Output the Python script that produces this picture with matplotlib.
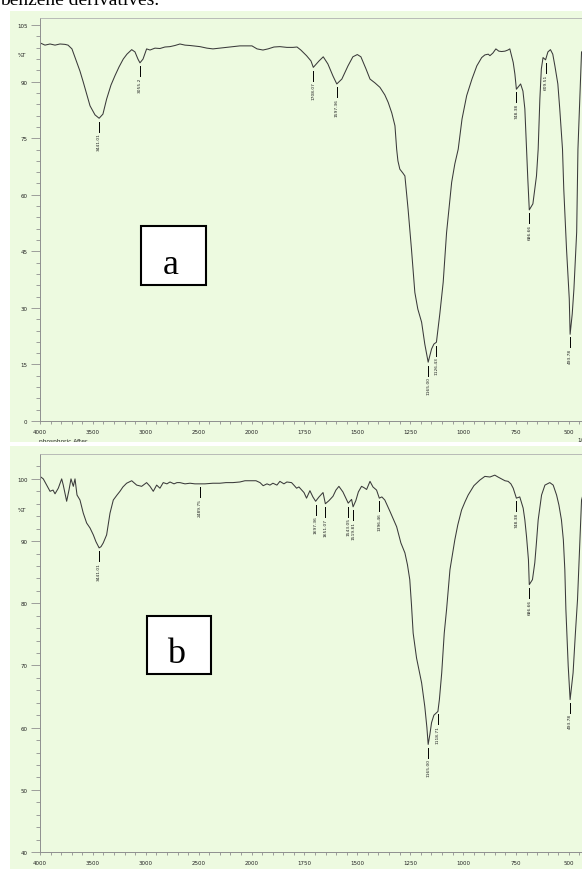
import numpy as np
import matplotlib
matplotlib.use("Agg")
import matplotlib.pyplot as plt
from matplotlib.patches import Rectangle
from matplotlib.ticker import FixedLocator

W, H = 582, 870
BG = "#edfae0"
LINE = "#3a3a3a"
AXC = "#8f8f8f"

# FTIR spectrum (a): wavenumber (1/cm) and transmittance (%T)
wn_a = [4000, 3953, 3905, 3858, 3811, 3764, 3735, 3698, 3653, 3622, 3591, 3556, 3527, 3480,
        3441, 3405, 3370, 3329, 3291, 3253, 3213, 3178, 3133, 3102, 3074, 3055, 3026, 2992,
        2960, 2913, 2866, 2819, 2771, 2724, 2677, 2629, 2582, 2488, 2422, 2365, 2299, 2204,
        2110, 2043, 1998, 1974, 1946, 1922, 1894, 1866, 1833, 1804, 1785, 1767, 1740, 1719,
        1708, 1681, 1661, 1639, 1615, 1597, 1573, 1544, 1521, 1500, 1483, 1459, 1440, 1417,
        1393, 1370, 1354, 1337, 1322, 1314, 1308, 1299, 1285, 1275, 1260, 1244, 1228, 1214,
        1196, 1181, 1165, 1149, 1138, 1126, 1110, 1094, 1078, 1054, 1039, 1023, 1005, 983,
        958, 935, 912, 897, 881, 873, 859, 845, 831, 818, 802, 788, 779, 763, 755, 748,
        728, 717, 708, 700, 694, 687, 670, 661, 653, 645, 637, 630, 622, 610, 599, 587,
        576, 566, 552, 543, 530, 524, 511, 498, 494, 484, 476, 463, 457, 440, 420]
t_a = [100.3, 99.7, 100.0, 99.7, 100.0, 99.9, 99.7, 98.7, 95.2, 92.8, 89.9, 86.5, 83.6, 81.2,
       80.3, 81.4, 85.4, 89.1, 91.6, 93.9, 96.0, 97.3, 98.5, 97.9, 96.0, 95.0, 96.0, 98.7,
       98.4, 98.9, 98.8, 99.2, 99.3, 99.6, 100.0, 99.7, 99.6, 99.3, 98.9, 98.7, 98.9, 99.2,
       99.5, 99.5, 99.5, 98.7, 98.4, 98.7, 99.2, 99.3, 99.1, 99.1, 99.2, 98.4, 96.9, 95.5,
       93.8, 95.5, 96.6, 94.7, 91.5, 89.4, 90.7, 94.2, 96.6, 97.2, 96.6, 93.4, 90.7, 89.7,
       88.5, 86.5, 84.5, 81.7, 78.3, 72.1, 69.0, 66.8, 65.8, 65.0, 56.2, 45.6, 34.1, 29.7,
       26.2, 20.4, 15.6, 19.1, 20.4, 20.9, 28.4, 36.8, 50.0, 63.3, 68.2, 72.1, 80.1, 86.3,
       90.7, 94.2, 96.4, 97.1, 97.3, 96.9, 97.6, 98.7, 98.1, 98.0, 98.1, 98.4, 98.7, 95.1, 92.0, 88.0,
       89.4, 87.5, 82.8, 72.1, 64.2, 56.0, 57.6, 61.5, 65.0, 72.1, 85.4, 93.4, 96.4, 95.8, 97.9, 98.5,
       97.3, 94.2, 89.4, 82.8, 72.1, 61.5, 45.6, 32.4, 23.0, 28.4, 35.0, 50.1, 72.1, 97.9, 98.5]
peaks_a = ["3441.01", "3055.2", "1708.07", "1597.36", "1165.00", "1126.43",
           "748.38", "686.66", "609.51", "493.78"]

# FTIR spectrum (b)
wn_b = [4000, 3969, 3937, 3905, 3877, 3858, 3827, 3795, 3780, 3748, 3726, 3707, 3685, 3669,
        3650, 3622, 3591, 3559, 3527, 3496, 3471, 3441, 3423, 3402, 3370, 3338, 3307, 3272,
        3244, 3216, 3181, 3133, 3086, 3039, 2992, 2960, 2929, 2897, 2866, 2835, 2800, 2771,
        2733, 2705, 2677, 2629, 2582, 2535, 2490, 2440, 2365, 2299, 2242, 2176, 2110, 2062,
        2015, 1979, 1960, 1945, 1927, 1913, 1899, 1880, 1866, 1847, 1833, 1811, 1800, 1787,
        1776, 1763, 1752, 1740, 1724, 1710, 1697, 1681, 1662, 1651, 1634, 1615, 1601, 1587,
        1568, 1550, 1543, 1527, 1520, 1507, 1495, 1480, 1469, 1456, 1440, 1426, 1409, 1396,
        1384, 1370, 1346, 1332, 1314, 1294, 1275, 1263, 1252, 1244, 1236, 1220, 1196, 1181,
        1171, 1165, 1157, 1149, 1138, 1119, 1112, 1101, 1089, 1078, 1062, 1039, 1025, 1007,
        991, 976, 949, 921, 897, 873, 850, 835, 818, 802, 787, 774, 763, 748, 732, 716,
        708, 700, 691, 687, 672, 661, 654, 645, 629, 613, 590, 574, 558, 547, 535, 526,
        519, 514, 503, 494, 480, 469, 459, 440, 420]
t_b = [100.4, 100.0, 99.0, 98.0, 98.2, 97.6, 98.5, 100.0, 99.0, 96.4, 98.2, 100.0, 98.8, 100.0,
       97.4, 96.6, 94.5, 92.9, 92.1, 91.0, 89.9, 88.9, 89.1, 89.7, 91.0, 94.5, 96.6, 97.4,
       98.0, 98.7, 99.3, 99.7, 99.0, 98.8, 99.4, 98.8, 98.0, 99.0, 98.5, 99.4, 99.2, 99.5,
       99.2, 99.4, 99.4, 99.2, 99.3, 99.2, 99.2, 99.2, 99.3, 99.3, 99.4, 99.4, 99.5, 99.7,
       99.7, 99.7, 99.4, 98.9, 99.2, 99.0, 99.3, 99.0, 99.6, 99.2, 99.5, 99.4, 99.0, 98.5,
       98.7, 98.2, 97.8, 96.9, 98.1, 97.1, 96.4, 97.1, 97.8, 96.0, 96.5, 97.2, 98.2, 98.8,
       97.9, 96.6, 96.1, 96.7, 95.5, 96.5, 97.9, 98.8, 98.6, 98.3, 99.6, 98.7, 98.2, 96.9,
       97.1, 96.6, 94.8, 93.7, 92.3, 89.7, 88.1, 86.2, 83.8, 79.8, 75.2, 71.2, 67.2, 63.4,
       60.0, 57.3, 58.9, 60.8, 62.0, 62.6, 64.5, 68.8, 75.2, 79.0, 85.4, 90.2, 92.6, 95.0,
       96.3, 97.4, 98.9, 99.8, 100.4, 100.3, 100.6, 100.3, 100.0, 99.7, 99.6, 99.2, 98.5, 96.9, 97.1, 95.3,
       93.4, 90.7, 87.0, 83.0, 83.8, 86.5, 89.4, 93.4, 97.4, 99.0, 99.4, 99.0, 97.4, 95.8, 93.4, 90.2,
       85.4, 79.0, 69.9, 64.5, 68.8, 75.2, 80.6, 96.6, 99.0]
peaks_b = ["3441.01", "2489.75", "1697.36", "1651.07", "1543.05", "1519.81", "1396.46",
           "1165.00", "1118.71", "748.38", "686.66", "493.78"]

major_x = [4000, 3500, 3000, 2500, 2000, 1750, 1500, 1250, 1000, 750, 500]
minor_x = list(range(4000, 2000, -100)) + list(range(2000, 399, -50))


# instrument x axis: 2x expansion below 2000 1/cm
def fwd(w):
    w = np.asarray(w, dtype=float)
    return np.where(w >= 2000, w, 2 * w - 2000)


def inv(v):
    v = np.asarray(v, dtype=float)
    return np.where(v >= 2000, v, (v + 2000) / 2)


def px_box(x0, y0, x1, y1):
    return [x0 / W, 1 - y1 / H, (x1 - x0) / W, (y1 - y0) / H]


def spectrum(fig, rect, wn, t, ylim, ymaj, ymin, peaks, pct_y):
    ax = fig.add_axes(px_box(*rect))
    ax.set_facecolor("none")
    ax.plot(wn, t, color=LINE, lw=0.75)
    ax.set_xscale("function", functions=(fwd, inv))
    ax.set_xlim(4000, 400)
    ax.set_ylim(*ylim)
    ax.xaxis.set_major_locator(FixedLocator(major_x))
    ax.xaxis.set_minor_locator(FixedLocator(minor_x))
    ax.set_xticklabels([str(v) for v in major_x])
    ax.yaxis.set_major_locator(FixedLocator(ymaj))
    ax.yaxis.set_minor_locator(FixedLocator(ymin))
    ax.set_yticklabels([str(v) for v in ymaj])
    ax.tick_params(axis="y", which="major", length=6.5, width=0.6, color=AXC,
                   pad=2.5, labelsize=4, labelcolor="#222222")
    ax.tick_params(axis="y", which="minor", length=3, width=0.6, color=AXC)
    ax.tick_params(axis="x", which="both", length=2.5, width=0.6, color=AXC,
                   pad=3, labelsize=4, labelcolor="#222222")
    for s in ("left", "bottom"):
        ax.spines[s].set_color(AXC)
        ax.spines[s].set_linewidth(0.7)
    ax.spines["right"].set_visible(False)
    ax.spines["top"].set_color("#b0b0b0")
    ax.spines["top"].set_linewidth(0.6)
    ax.spines["top"].set_linestyle((0, (1, 1)))
    ax.text(-14 / 550, pct_y, "%T", transform=ax.get_yaxis_transform(),
            ha="right", va="center", fontsize=4, color="#222222")

    # peak markers: short vertical tick under each band, rotated value below it
    ppu = (rect[3] - rect[1]) / (ylim[1] - ylim[0])
    order = np.argsort(wn)
    xs, ys = np.asarray(wn)[order], np.asarray(t)[order]
    for lbl in peaks:
        x = float(lbl)
        y = np.interp(x, xs, ys)
        y0 = y - 3.5 / ppu
        y1 = y0 - 10 / ppu
        ax.plot([x, x], [y0, y1], color="black", lw=0.7)
        ax.text(x, y1 - 0.5 / ppu, lbl, rotation=90, ha="center", va="top",
                fontsize=3.2, color="#222222")
    return ax


fig = plt.figure(figsize=(W / 100, H / 100), dpi=100)

# light green instrument panels
bg_a = fig.add_axes(px_box(10, 11.5, 600, 443), zorder=-1)
bg_b = fig.add_axes(px_box(10, 447, 600, 880), zorder=-1)
for bg in (bg_a, bg_b):
    bg.set_facecolor(BG)
    bg.set_xticks([])
    bg.set_yticks([])
    for s in bg.spines.values():
        s.set_visible(False)

bg_a.text(29 / 590, (443 - 438.5) / 431.5, "phosphoric After", transform=bg_a.transAxes,
          ha="left", va="top", fontsize=4.2, color="#222222", clip_on=True)
bg_a.text(567 / 590, (443 - 437.5) / 431.5, "1/cm", transform=bg_a.transAxes,
          ha="left", va="top", fontsize=4, color="#222222", clip_on=True)

spectrum(fig, (40, 18.6, 590, 422), wn_a, t_a, (0, 107),
         [0, 15, 30, 45, 60, 75, 90, 105], list(range(0, 106, 3)), peaks_a, 97.3)
spectrum(fig, (40, 455, 590, 853), wn_b, t_b, (40, 104),
         [40, 50, 60, 70, 80, 90, 100], list(range(40, 103, 2)), peaks_b, 95.0)

# sample tags
for (x0, y0, w, h), letter, (cx, by) in [((140.7, 227.3, 65, 58.7), "a", (171, 274)),
                                          ((146.7, 617.3, 64, 57.7), "b", (176, 663))]:
    fig.add_artist(Rectangle((x0 / W, 1 - (y0 + h) / H), w / W, h / H,
                             transform=fig.transFigure, facecolor="white",
                             edgecolor="black", lw=1.5))
    fig.text(cx / W, 1 - by / H, letter, ha="center", va="baseline",
             family="Liberation Serif", fontsize=26, color="black")

fig.text(0.5 / W, 1 - 5 / H, "benzene derivatives.", ha="left", va="baseline",
         family="Liberation Serif", fontsize=14, color="black")

fig.savefig("out.png", dpi=100)
